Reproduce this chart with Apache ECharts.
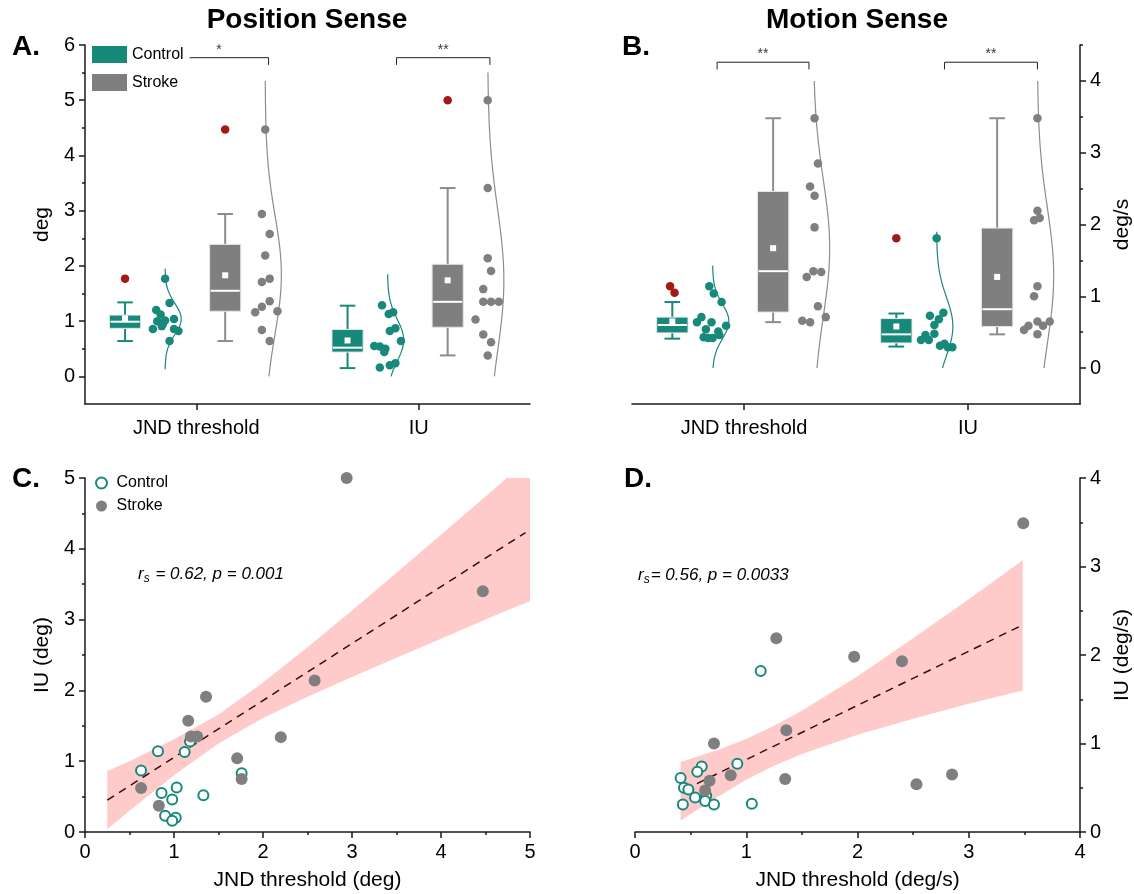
<!DOCTYPE html>
<html>
<head>
<meta charset="utf-8">
<title>Position and motion sense</title>
<script src="https://cdn.jsdelivr.net/npm/echarts@6.0.0/dist/echarts.min.js"></script>
<style>
  html, body { margin: 0; padding: 0; background: #fff; }
  #main { width: 1134px; height: 894px; }
</style>
</head>
<body>
<div id="main"></div>
<script>
// colours and fonts
const teal = '#17897a'
const gray = '#7f7f7f'
const whiskerGray = '#8c8c8c'
const outlierRed = '#a11a1a'
const bandPink = '#ffcaca'
const fitColor = '#3b0b0b'
const axisColor = '#1a1a1a'
const font = 'Liberation Sans, Arial, sans-serif'

// ---------- A. / B. : box plot + dots + half violin ----------
const categories = ['JND threshold', 'IU']
const groupCenters = [1, 3]
const boxShift = { ctrl: -0.64, stroke: 0.26 } // box centre relative to group
const violinShift = { ctrl: -0.28, stroke: 0.62 } // violin baseline relative to group
const boxWidth = 0.28
const capWidth = 0.14
const violinWidth = 0.145

// A. Position sense (deg) - box rows: [low whisker, Q1, median, Q3, high whisker]
const posYTicks = [0, 1, 2, 3, 4, 5, 6]
const posYMinor = [0.5, 1.5, 2.5, 3.5, 4.5, 5.5]
const posCtrlBox = [[0.64, 0.87, 0.99, 1.11, 1.34], [0.15, 0.44, 0.52, 0.85, 1.28]]
const posCtrlMean = [1.05, 0.65]
const posStrokeBox = [[0.64, 1.18, 1.55, 2.39, 2.94], [0.38, 0.89, 1.35, 2.03, 3.41]]
const posStrokeMean = [1.83, 1.74]
const posCtrlOut = [[1.77], []]
const posCtrlOutJit = [[0], []]
const posStrokeOut = [[4.47], [5.0]]
const posStrokeOutJit = [[0], [0]]
const posCtrlJnd = [1.77, 1.33, 1.20, 1.12, 1.04, 1.00, 1.01, 0.95, 0.91, 0.86, 0.86, 0.82, 0.64]
const posCtrlJndJit = [0.00, 0.04, -0.08, -0.04, 0.08, -0.07, 0.00, -0.02, -0.03, -0.11, 0.08, 0.12, 0.04]
const posCtrlIu = [1.29, 1.13, 1.16, 0.82, 0.87, 0.64, 0.55, 0.54, 0.50, 0.44, 0.16, 0.20, 0.24]
const posCtrlIuJit = [-0.05, 0.01, 0.05, 0.02, 0.07, 0.12, -0.12, -0.07, -0.02, -0.03, -0.07, 0.02, 0.07]
const posStrokeJnd = [4.47, 2.94, 2.58, 2.19, 1.77, 1.71, 1.36, 1.26, 1.18, 1.16, 0.84, 0.64]
const posStrokeJndJit = [0.00, -0.03, 0.04, 0.00, 0.04, -0.03, 0.04, -0.03, 0.11, -0.09, -0.03, 0.04]
const posStrokeIu = [5.00, 3.41, 2.14, 1.91, 1.58, 1.35, 1.35, 1.35, 1.03, 0.76, 0.62, 0.38]
const posStrokeIuJit = [0.00, 0.00, 0.00, 0.03, -0.04, -0.04, 0.03, 0.10, -0.11, -0.04, 0.03, 0.00]
const posCtrlRange = [[0.13, 1.95], [0, 1.85]] // y span of the fitted curves
const posStrokeRange = [[0, 5.35], [0, 5.5]]
const posBrackets = [[0.76, 1.65], [2.80, 3.64]]
const posBracketY = 5.77
const posStars = ['*', '**']

// B. Motion sense (deg/s)
const motYTicks = [0, 1, 2, 3, 4]
const motYMinor = [0.5, 1.5, 2.5, 3.5, 4.5]
const motCtrlBox = [[0.41, 0.49, 0.60, 0.71, 0.92], [0.30, 0.35, 0.47, 0.69, 0.76]]
const motCtrlMean = [0.65, 0.58]
const motStrokeBox = [[0.64, 0.78, 1.35, 2.46, 3.48], [0.47, 0.58, 0.82, 1.95, 3.48]]
const motStrokeMean = [1.67, 1.27]
const motCtrlOut = [[1.14, 1.05], [1.81]]
const motCtrlOutJit = [[-0.02, 0.02], [0]]
const motStrokeOut = [[], []]
const motStrokeOutJit = [[], []]
const motCtrlJnd = [1.14, 1.04, 0.92, 0.71, 0.64, 0.64, 0.59, 0.54, 0.51, 0.43, 0.42, 0.42, 0.46]
const motCtrlJndJit = [-0.03, 0.01, 0.08, -0.10, -0.14, -0.01, 0.12, -0.06, 0.05, -0.08, -0.04, 0.00, 0.06]
const motCtrlIu = [1.81, 0.73, 0.77, 0.68, 0.60, 0.48, 0.46, 0.39, 0.39, 0.31, 0.34, 0.29, 0.29]
const motCtrlIuJit = [0.00, -0.06, 0.06, 0.02, -0.02, -0.02, -0.10, -0.14, -0.07, 0.03, 0.07, 0.10, 0.14]
const motStrokeJnd = [3.48, 2.85, 2.53, 2.40, 1.96, 1.27, 1.35, 1.34, 0.86, 0.66, 0.64, 0.71]
const motStrokeJndJit = [0.01, 0.04, -0.03, 0.01, 0.01, -0.06, 0.00, 0.07, 0.04, -0.10, -0.03, 0.11]
const motStrokeIu = [3.48, 2.19, 2.06, 2.09, 1.14, 1.00, 0.53, 0.59, 0.65, 0.59, 0.65, 0.47]
const motStrokeIuJit = [0.00, 0.00, -0.03, 0.02, 0.00, -0.03, -0.12, -0.08, 0.00, 0.05, 0.11, 0.00]
const motCtrlRange = [[0, 1.43], [0, 1.9]]
const motStrokeRange = [[0, 4.0], [0, 4.0]]
const motBrackets = [[0.76, 1.58], [2.79, 3.62]]
const motBracketY = 4.26
const motStars = ['**', '**']

// ---------- C. / D. : JND threshold vs IU ----------
const posCtrlX = [0.63, 0.82, 1.12, 1.18, 0.86, 1.03, 0.98, 1.33, 0.90, 1.02, 0.98, 1.76]
const posCtrlY = [0.87, 1.14, 1.13, 1.28, 0.55, 0.63, 0.46, 0.52, 0.23, 0.20, 0.16, 0.83]
const posStrokeX = [2.94, 4.47, 2.58, 1.36, 1.16, 1.19, 1.26, 2.20, 1.71, 1.76, 0.63, 0.83]
const posStrokeY = [5.00, 3.40, 2.14, 1.91, 1.57, 1.35, 1.35, 1.34, 1.04, 0.75, 0.62, 0.37]
const posFitX = [0.25, 4.95]
const posFitY = [0.45, 4.23]
const posBandX = [0.25, 0.5, 1.0, 1.5, 2.0, 2.5, 3.0, 3.5, 4.0, 4.5, 4.74, 5.0]
const posBandLow = [0.04, 0.30, 0.80, 1.25, 1.61, 1.91, 2.19, 2.46, 2.73, 3.00, 3.13, 3.26]
const posBandHigh = [0.86, 1.00, 1.31, 1.66, 2.11, 2.61, 3.13, 3.66, 4.20, 4.74, 5.00, 5.00]

const motCtrlX = [1.13, 0.92, 0.60, 0.56, 0.41, 0.44, 0.48, 0.54, 0.64, 0.63, 0.43, 0.71, 1.05]
const motCtrlY = [1.82, 0.77, 0.74, 0.68, 0.61, 0.50, 0.48, 0.39, 0.41, 0.35, 0.31, 0.31, 0.32]
const motStrokeX = [3.49, 1.27, 1.97, 2.40, 1.36, 0.71, 0.86, 0.67, 1.35, 2.85, 2.53, 0.63]
const motStrokeY = [3.49, 2.19, 1.98, 1.93, 1.15, 1.00, 0.64, 0.58, 0.60, 0.65, 0.54, 0.47]
const motFitX = [0.557, 3.485]
const motFitY = [0.547, 2.34]
const motBandX = [0.41, 0.75, 1.0, 1.25, 1.5, 2.0, 2.5, 3.0, 3.485]
const motBandLow = [0.13, 0.40, 0.59, 0.75, 0.88, 1.10, 1.28, 1.45, 1.60]
const motBandHigh = [0.79, 0.93, 1.05, 1.20, 1.37, 1.76, 2.19, 2.63, 3.07]

const zip = (xs, ys) => xs.map((x, i) => [x, ys[i]])

// box with whiskers, white median line and white mean square
function boxSeries (name, xi, yi, box, mean, shift, color, lineColor) {
  return {
    name: name,
    type: 'custom',
    xAxisIndex: xi,
    yAxisIndex: yi,
    z: 2,
    itemStyle: { color: color },
    data: box.map((b, i) => [groupCenters[i] + shift].concat(b, [mean[i]])),
    encode: { x: 0, y: [1, 2, 3, 4, 5, 6] },
    renderItem: function (params, api) {
      const x = api.value(0)
      const lo = api.coord([x, api.value(1)])
      const q1 = api.coord([x - boxWidth / 2, api.value(2)])
      const med = api.coord([x - boxWidth / 2, api.value(3)])
      const q3 = api.coord([x + boxWidth / 2, api.value(4)])
      const hi = api.coord([x, api.value(5)])
      const mn = api.coord([x, api.value(6)])
      const capL = api.coord([x - capWidth / 2, 0])[0]
      const capR = api.coord([x + capWidth / 2, 0])[0]
      const ws = { stroke: lineColor, lineWidth: 2 }
      return {
        type: 'group',
        children: [
          { type: 'line', shape: { x1: lo[0], y1: lo[1], x2: lo[0], y2: q1[1] }, style: ws },
          { type: 'line', shape: { x1: hi[0], y1: q3[1], x2: hi[0], y2: hi[1] }, style: ws },
          { type: 'line', shape: { x1: capL, y1: lo[1], x2: capR, y2: lo[1] }, style: ws },
          { type: 'line', shape: { x1: capL, y1: hi[1], x2: capR, y2: hi[1] }, style: ws },
          { type: 'rect', shape: { x: q1[0], y: q3[1], width: q3[0] - q1[0], height: q1[1] - q3[1] }, style: { fill: color, stroke: '#e6e6e6', lineWidth: 1 } },
          { type: 'line', shape: { x1: q1[0] + 1, y1: med[1], x2: q3[0] - 1, y2: med[1] }, style: { stroke: '#fff', lineWidth: 2 } },
          { type: 'rect', shape: { x: mn[0] - 3, y: mn[1] - 3, width: 6, height: 6 }, style: { fill: '#fff' } }
        ]
      }
    }
  }
}

function pointsSeries (xi, yi, groups, jits, shift, color, size) {
  const data = []
  groups.forEach((vals, g) => {
    vals.forEach((v, i) => data.push([groupCenters[g] + shift + jits[g][i], v]))
  })
  return { type: 'scatter', xAxisIndex: xi, yAxisIndex: yi, z: 3, symbolSize: size, itemStyle: { color: color, opacity: 1 }, data: data }
}

// normal curve fitted to the group's values, drawn sideways
function violinSeries (xi, yi, vals, range, base, color) {
  const n = vals.length
  const mean = vals.reduce((a, b) => a + b, 0) / n
  const sd = Math.sqrt(vals.reduce((a, v) => a + (v - mean) * (v - mean), 0) / (n - 1))
  const pts = []
  for (let i = 0; i <= 80; i++) {
    const y = range[0] + (range[1] - range[0]) * i / 80
    const z = (y - mean) / sd
    pts.push([base + violinWidth * Math.exp(-0.5 * z * z), y])
  }
  return { type: 'line', xAxisIndex: xi, yAxisIndex: yi, z: 1, symbol: 'none', silent: true, lineStyle: { color: color, width: 1.2 }, data: pts }
}

function bracketSeries (xi, yi, spans, y, drop, stars) {
  const list = spans.map(s => ({
    type: 'line', xAxisIndex: xi, yAxisIndex: yi, symbol: 'none', silent: true, z: 1,
    lineStyle: { color: '#222', width: 1 },
    data: [[s[0], y - drop], [s[0], y], [s[1], y], [s[1], y - drop]]
  }))
  list.push({
    type: 'scatter', xAxisIndex: xi, yAxisIndex: yi, symbolSize: 0, silent: true,
    label: { show: true, position: 'top', distance: 1, formatter: p => p.data[2], fontSize: 14, color: '#000', fontFamily: font },
    data: spans.map((s, i) => [(s[0] + s[1]) / 2, y, stars[i]])
  })
  return list
}

function panelSeries (xi, yi, p) {
  const list = []
  ;[0, 1].forEach(g => {
    list.push(violinSeries(xi, yi, p.ctrlDots[g], p.ctrlRange[g], groupCenters[g] + violinShift.ctrl, teal))
    list.push(violinSeries(xi, yi, p.strokeDots[g], p.strokeRange[g], groupCenters[g] + violinShift.stroke, whiskerGray))
  })
  list.push(boxSeries(p.ctrlName, xi, yi, p.ctrlBox, p.ctrlMean, boxShift.ctrl, teal, teal))
  list.push(boxSeries(p.strokeName, xi, yi, p.strokeBox, p.strokeMean, boxShift.stroke, gray, whiskerGray))
  list.push(pointsSeries(xi, yi, p.ctrlOut, p.ctrlOutJit, boxShift.ctrl, outlierRed, 8.5))
  list.push(pointsSeries(xi, yi, p.strokeOut, p.strokeOutJit, boxShift.stroke, outlierRed, 8.5))
  list.push(pointsSeries(xi, yi, p.ctrlDots, p.ctrlJit, violinShift.ctrl, teal, 8.5))
  list.push(pointsSeries(xi, yi, p.strokeDots, p.strokeJit, violinShift.stroke, gray, 8.5))
  return list.concat(bracketSeries(xi, yi, p.brackets, p.bracketY, p.drop, p.stars))
}

function scatterPanelSeries (xi, yi, tag, c) {
  return [
    {
      type: 'custom', xAxisIndex: xi, yAxisIndex: yi, silent: true, z: 1,
      data: c.bandX.map((x, i) => [x, c.low[i], c.high[i]]),
      encode: { x: 0, y: [1, 2] },
      renderItem: function (params, api) {
        if (params.dataIndex !== 0) return
        const pts = c.bandX.map((x, i) => api.coord([x, c.high[i]]))
        for (let i = c.bandX.length - 1; i >= 0; i--) pts.push(api.coord([c.bandX[i], c.low[i]]))
        return { type: 'polygon', shape: { points: pts }, style: { fill: bandPink } }
      }
    },
    {
      type: 'line', xAxisIndex: xi, yAxisIndex: yi, symbol: 'none', silent: true, z: 2,
      lineStyle: { color: fitColor, width: 1.5, type: [8, 6] },
      data: zip(c.fitX, c.fitY)
    },
    {
      name: 'Control' + tag, type: 'scatter', xAxisIndex: xi, yAxisIndex: yi, z: 3,
      symbolSize: 10, itemStyle: { color: '#fff', borderColor: teal, borderWidth: 2, opacity: 1 },
      data: zip(c.ctrlX, c.ctrlY)
    },
    {
      name: 'Stroke' + tag, type: 'scatter', xAxisIndex: xi, yAxisIndex: yi, z: 4,
      symbolSize: 12, itemStyle: { color: gray, opacity: 1 },
      data: zip(c.strokeX, c.strokeY)
    }
  ]
}

const lineStyle = { color: axisColor, width: 1.5 }
const labelStyle = { color: '#000', fontSize: 20, fontFamily: font }
const nameStyle = { color: '#000', fontSize: 21, fontFamily: font }

function groupXAxis (gi) {
  return {
    gridIndex: gi, type: 'value', min: 0, max: 4,
    splitLine: { show: false },
    axisLine: { show: true, onZero: false, lineStyle: lineStyle },
    axisTick: { show: true, customValues: groupCenters, length: 6, lineStyle: lineStyle },
    axisLabel: Object.assign({ customValues: groupCenters, margin: 14, formatter: v => categories[groupCenters.indexOf(v)] }, labelStyle)
  }
}

function groupYAxis (gi, side, max, ticks, name) {
  return {
    gridIndex: gi, type: 'value', position: side, min: -0.5, max: max, interval: 0.5,
    name: name, nameLocation: 'middle', nameGap: 32, nameRotate: 90, nameTextStyle: nameStyle,
    splitLine: { show: false },
    axisLine: { show: true, onZero: false, lineStyle: lineStyle },
    axisTick: { show: true, customValues: ticks, length: 6, lineStyle: lineStyle },
    axisLabel: Object.assign({ customValues: ticks, margin: 10 }, labelStyle)
  }
}

function minorYAxis (gi, side, max, ticks) {
  return {
    gridIndex: gi, type: 'value', position: side, min: -0.5, max: max, interval: 0.5,
    splitLine: { show: false },
    axisLine: { show: false, onZero: false },
    axisLabel: { show: false },
    axisTick: { show: true, customValues: ticks, length: 3, lineStyle: lineStyle }
  }
}

function valueAxis (gi, side, max, name, gap) {
  return {
    gridIndex: gi, type: 'value', position: side, min: 0, max: max, interval: 1,
    name: name, nameLocation: 'middle', nameGap: gap, nameRotate: (side === 'bottom' ? 0 : 90), nameTextStyle: nameStyle,
    splitLine: { show: false },
    axisLine: { show: true, onZero: false, lineStyle: lineStyle },
    axisTick: { show: true, length: 6, lineStyle: lineStyle },
    minorTick: { show: true, splitNumber: 2, length: 3, lineStyle: lineStyle },
    axisLabel: Object.assign({ margin: 10 }, labelStyle)
  }
}

const posPanel = {
  ctrlName: 'Control', strokeName: 'Stroke',
  ctrlBox: posCtrlBox, ctrlMean: posCtrlMean, strokeBox: posStrokeBox, strokeMean: posStrokeMean,
  ctrlOut: posCtrlOut, ctrlOutJit: posCtrlOutJit, strokeOut: posStrokeOut, strokeOutJit: posStrokeOutJit,
  ctrlDots: [posCtrlJnd, posCtrlIu], ctrlJit: [posCtrlJndJit, posCtrlIuJit],
  strokeDots: [posStrokeJnd, posStrokeIu], strokeJit: [posStrokeJndJit, posStrokeIuJit],
  ctrlRange: posCtrlRange, strokeRange: posStrokeRange,
  brackets: posBrackets, bracketY: posBracketY, drop: 0.13, stars: posStars
}
const motPanel = {
  ctrlName: 'Control B', strokeName: 'Stroke B',
  ctrlBox: motCtrlBox, ctrlMean: motCtrlMean, strokeBox: motStrokeBox, strokeMean: motStrokeMean,
  ctrlOut: motCtrlOut, ctrlOutJit: motCtrlOutJit, strokeOut: motStrokeOut, strokeOutJit: motStrokeOutJit,
  ctrlDots: [motCtrlJnd, motCtrlIu], ctrlJit: [motCtrlJndJit, motCtrlIuJit],
  strokeDots: [motStrokeJnd, motStrokeIu], strokeJit: [motStrokeJndJit, motStrokeIuJit],
  ctrlRange: motCtrlRange, strokeRange: motStrokeRange,
  brackets: motBrackets, bracketY: motBracketY, drop: 0.1, stars: motStars
}
const posScatter = {
  bandX: posBandX, low: posBandLow, high: posBandHigh, fitX: posFitX, fitY: posFitY,
  ctrlX: posCtrlX, ctrlY: posCtrlY, strokeX: posStrokeX, strokeY: posStrokeY
}
const motScatter = {
  bandX: motBandX, low: motBandLow, high: motBandHigh, fitX: motFitX, fitY: motFitY,
  ctrlX: motCtrlX, ctrlY: motCtrlY, strokeX: motStrokeX, strokeY: motStrokeY
}

function text (x, y, str, size, extra) {
  return {
    type: 'text', x: x, y: y, silent: true,
    style: Object.assign({ text: str, fill: '#000', font: 'bold ' + size + 'px ' + font, align: 'left', verticalAlign: 'middle' }, extra || {})
  }
}

function statText (x, y, rest) {
  return {
    type: 'text', x: x, y: y, silent: true,
    style: {
      text: '{i|r}{s|s}{i|' + rest + '}',
      verticalAlign: 'middle',
      rich: {
        i: { fill: '#000', fontSize: 17, fontStyle: 'italic', fontFamily: font, lineHeight: 22 },
        s: { fill: '#000', fontSize: 12, fontStyle: 'italic', fontFamily: font, lineHeight: 22, padding: [10, 1, 0, 0] }
      }
    }
  }
}

const chart = echarts.init(document.getElementById('main'))
chart.setOption({
  animation: false,
  backgroundColor: '#fff',
  textStyle: { fontFamily: font },
  grid: [
    { left: 85, top: 45, width: 445, height: 359 },
    { left: 632, top: 45, width: 450, height: 359 },
    { left: 85, top: 478, width: 445, height: 354 },
    { left: 635, top: 478, width: 447, height: 354 }
  ],
  xAxis: [
    groupXAxis(0),
    groupXAxis(1),
    valueAxis(2, 'bottom', 5, 'JND threshold (deg)', 38),
    valueAxis(3, 'bottom', 4, 'JND threshold (deg/s)', 38)
  ],
  yAxis: [
    groupYAxis(0, 'left', 6, posYTicks, 'deg'),
    groupYAxis(1, 'right', 4.5, motYTicks, 'deg/s'),
    valueAxis(2, 'left', 5, 'IU (deg)', 32),
    valueAxis(3, 'right', 4, 'IU (deg/s)', 32),
    minorYAxis(0, 'left', 6, posYMinor),
    minorYAxis(1, 'right', 4.5, motYMinor)
  ],
  legend: [
    {
      left: 92, top: 46, orient: 'vertical', selectedMode: false,
      itemWidth: 35, itemHeight: 17, itemGap: 11, backgroundColor: '#fff', padding: [0, 6, 0, 0],
      data: [{ name: 'Control', icon: 'rect' }, { name: 'Stroke', icon: 'rect' }],
      textStyle: { fontSize: 16, color: '#000', fontFamily: font }
    },
    {
      left: 95, top: 475, orient: 'vertical', selectedMode: false,
      itemWidth: 20, itemHeight: 11, itemGap: 7, padding: 0,
      data: ['Control C', 'Stroke C'],
      formatter: n => n.replace(' C', ''),
      textStyle: { fontSize: 16, color: '#000', fontFamily: font }
    }
  ],
  graphic: [
    text(307, 20, 'Position Sense', 28, { align: 'center' }),
    text(857, 20, 'Motion Sense', 28, { align: 'center' }),
    text(12, 47, 'A.', 28),
    text(622, 47, 'B.', 28),
    text(12, 479, 'C.', 28),
    text(624, 479, 'D.', 28),
    statText(138, 574, ' = 0.62, p = 0.001'),
    statText(638, 575, '= 0.56, p = 0.0033')
  ],
  series: [].concat(
    panelSeries(0, 0, posPanel),
    panelSeries(1, 1, motPanel),
    scatterPanelSeries(2, 2, ' C', posScatter),
    scatterPanelSeries(3, 3, ' D', motScatter)
  )
})
</script>
</body>
</html>
